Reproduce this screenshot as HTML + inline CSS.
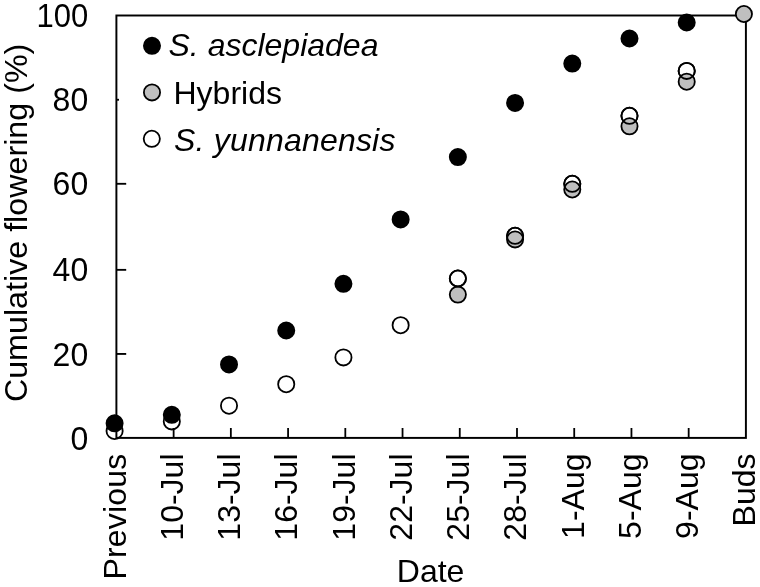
<!DOCTYPE html>
<html><head><meta charset="utf-8"><title>Cumulative flowering</title>
<style>
html,body{margin:0;padding:0;background:#fff;}
svg{display:block;}
text{font-family:"Liberation Sans",Arial,sans-serif;font-size:32px;fill:#000;font-kerning:none;}
.it{font-style:italic;}
</style></head><body>
<svg width="760" height="587" viewBox="0 0 760 587">
<rect width="760" height="587" fill="#fff"/>

<circle cx="114.60" cy="431.00" r="8.1" fill="#fff" stroke="#000" stroke-width="1.8"/>
<circle cx="171.81" cy="421.40" r="8.1" fill="#fff" stroke="#000" stroke-width="1.8"/>
<circle cx="229.02" cy="405.70" r="8.1" fill="#fff" stroke="#000" stroke-width="1.8"/>
<circle cx="286.23" cy="384.20" r="8.1" fill="#fff" stroke="#000" stroke-width="1.8"/>
<circle cx="343.44" cy="357.40" r="8.1" fill="#fff" stroke="#000" stroke-width="1.8"/>
<circle cx="400.65" cy="325.20" r="8.1" fill="#fff" stroke="#000" stroke-width="1.8"/>
<circle cx="457.86" cy="278.50" r="8.1" fill="#fff" stroke="#000" stroke-width="1.8"/>
<circle cx="515.07" cy="235.80" r="8.1" fill="#fff" stroke="#000" stroke-width="1.8"/>
<circle cx="572.28" cy="183.80" r="8.1" fill="#fff" stroke="#000" stroke-width="1.8"/>
<circle cx="629.49" cy="115.80" r="8.1" fill="#fff" stroke="#000" stroke-width="1.8"/>
<circle cx="686.70" cy="70.90" r="8.1" fill="#fff" stroke="#000" stroke-width="1.8"/>
<rect x="116.4" y="15.5" width="629.50" height="422.40" fill="none" stroke="#000" stroke-width="1.95"/>
<line x1="173.63" y1="437.9" x2="173.63" y2="428.0" stroke="#000" stroke-width="1.8"/>
<line x1="230.85" y1="437.9" x2="230.85" y2="428.0" stroke="#000" stroke-width="1.8"/>
<line x1="288.08" y1="437.9" x2="288.08" y2="428.0" stroke="#000" stroke-width="1.8"/>
<line x1="345.31" y1="437.9" x2="345.31" y2="428.0" stroke="#000" stroke-width="1.8"/>
<line x1="402.54" y1="437.9" x2="402.54" y2="428.0" stroke="#000" stroke-width="1.8"/>
<line x1="459.76" y1="437.9" x2="459.76" y2="428.0" stroke="#000" stroke-width="1.8"/>
<line x1="516.99" y1="437.9" x2="516.99" y2="428.0" stroke="#000" stroke-width="1.8"/>
<line x1="574.22" y1="437.9" x2="574.22" y2="428.0" stroke="#000" stroke-width="1.8"/>
<line x1="631.45" y1="437.9" x2="631.45" y2="428.0" stroke="#000" stroke-width="1.8"/>
<line x1="688.67" y1="437.9" x2="688.67" y2="428.0" stroke="#000" stroke-width="1.8"/>
<line x1="116.4" y1="353.95" x2="126.2" y2="353.95" stroke="#000" stroke-width="1.85"/>
<line x1="116.4" y1="269.85" x2="126.2" y2="269.85" stroke="#000" stroke-width="1.85"/>
<line x1="116.4" y1="183.80" x2="126.2" y2="183.80" stroke="#000" stroke-width="1.85"/>
<line x1="116.4" y1="99.75" x2="119.0" y2="99.75" stroke="#000" stroke-width="1.85"/>
<text transform="translate(88.2,449.50) scale(1,1.03)" text-anchor="end">0</text>
<text transform="translate(88.2,365.55) scale(1,1.03)" text-anchor="end">20</text>
<text transform="translate(88.2,281.45) scale(1,1.03)" text-anchor="end">40</text>
<text transform="translate(88.2,195.40) scale(1,1.03)" text-anchor="end">60</text>
<text transform="translate(88.2,111.35) scale(1,1.03)" text-anchor="end">80</text>
<text transform="translate(88.2,26.70) scale(0.97,1.03)" text-anchor="end">100</text>
<text transform="translate(125.70,453.5) rotate(-90)" text-anchor="end" style="letter-spacing:0.2px">Previous</text>
<text transform="translate(182.93,453.5) rotate(-90)" text-anchor="end">10-Jul</text>
<text transform="translate(240.15,453.5) rotate(-90)" text-anchor="end">13-Jul</text>
<text transform="translate(297.38,453.5) rotate(-90)" text-anchor="end">16-Jul</text>
<text transform="translate(354.61,453.5) rotate(-90)" text-anchor="end">19-Jul</text>
<text transform="translate(411.84,453.5) rotate(-90)" text-anchor="end">22-Jul</text>
<text transform="translate(469.06,453.5) rotate(-90)" text-anchor="end">25-Jul</text>
<text transform="translate(526.29,453.5) rotate(-90)" text-anchor="end">28-Jul</text>
<text transform="translate(583.52,453.5) rotate(-90)" text-anchor="end">1-Aug</text>
<text transform="translate(640.75,453.5) rotate(-90)" text-anchor="end">5-Aug</text>
<text transform="translate(697.97,453.5) rotate(-90)" text-anchor="end">9-Aug</text>
<text transform="translate(755.20,453.5) rotate(-90)" text-anchor="end">Buds</text>
<text x="430.6" y="581.8" text-anchor="middle">Date</text>
<text transform="translate(27.3,222.9) rotate(-90)" text-anchor="middle" style="font-size:32.25px">Cumulative flowering (%)</text>
<circle cx="457.86" cy="294.60" r="8.1" fill="#bfbfbf" stroke="#000" stroke-width="1.8"/>
<circle cx="515.07" cy="239.40" r="8.1" fill="#bfbfbf" stroke="#000" stroke-width="1.8"/>
<circle cx="572.28" cy="189.50" r="8.1" fill="#bfbfbf" stroke="#000" stroke-width="1.8"/>
<circle cx="629.49" cy="126.30" r="8.1" fill="#bfbfbf" stroke="#000" stroke-width="1.8"/>
<circle cx="686.70" cy="81.70" r="8.1" fill="#bfbfbf" stroke="#000" stroke-width="1.8"/>
<circle cx="743.91" cy="14.00" r="8.1" fill="#bfbfbf" stroke="#000" stroke-width="1.8"/>
<circle cx="457.86" cy="278.50" r="8.1" fill="none" stroke="#000" stroke-width="1.8"/>
<circle cx="515.07" cy="235.80" r="8.1" fill="none" stroke="#000" stroke-width="1.8"/>
<circle cx="572.28" cy="183.80" r="8.1" fill="none" stroke="#000" stroke-width="1.8"/>
<circle cx="629.49" cy="115.80" r="8.1" fill="none" stroke="#000" stroke-width="1.8"/>
<circle cx="686.70" cy="70.90" r="8.1" fill="none" stroke="#000" stroke-width="1.8"/>
<circle cx="114.60" cy="423.30" r="8.1" fill="#000" stroke="#000" stroke-width="1.8"/>
<circle cx="171.81" cy="414.80" r="8.1" fill="#000" stroke="#000" stroke-width="1.8"/>
<circle cx="229.02" cy="364.40" r="8.1" fill="#000" stroke="#000" stroke-width="1.8"/>
<circle cx="286.23" cy="330.50" r="8.1" fill="#000" stroke="#000" stroke-width="1.8"/>
<circle cx="343.44" cy="283.80" r="8.1" fill="#000" stroke="#000" stroke-width="1.8"/>
<circle cx="400.65" cy="219.40" r="8.1" fill="#000" stroke="#000" stroke-width="1.8"/>
<circle cx="457.86" cy="157.10" r="8.1" fill="#000" stroke="#000" stroke-width="1.8"/>
<circle cx="515.07" cy="102.90" r="8.1" fill="#000" stroke="#000" stroke-width="1.8"/>
<circle cx="572.28" cy="63.60" r="8.1" fill="#000" stroke="#000" stroke-width="1.8"/>
<circle cx="629.49" cy="38.50" r="8.1" fill="#000" stroke="#000" stroke-width="1.8"/>
<circle cx="686.70" cy="22.50" r="8.1" fill="#000" stroke="#000" stroke-width="1.8"/>
<circle cx="152.00" cy="45.80" r="8.1" fill="#000" stroke="#000" stroke-width="1.8"/>
<circle cx="152.00" cy="92.40" r="8.1" fill="#bfbfbf" stroke="#000" stroke-width="1.8"/>
<circle cx="151.80" cy="138.80" r="8.1" fill="#fff" stroke="#000" stroke-width="1.8"/>
<text x="168.5" y="56" class="it">S. asclepiadea</text>
<text x="173.5" y="103.5">Hybrids</text>
<text x="174" y="151.2" class="it" style="letter-spacing:0.2px">S. yunnanensis</text>
</svg></body></html>
